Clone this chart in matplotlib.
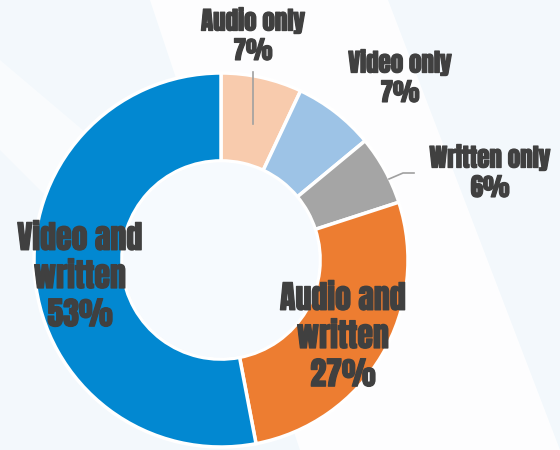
import matplotlib
matplotlib.use("Agg")
import matplotlib.pyplot as plt
import matplotlib.patheffects as pe

# donut slices, clockwise from 12 o'clock
labels = ["Audio only", "Video only", "Written only", "Audio and\nwritten", "Video and\nwritten"]
shares = [7, 7, 6, 27, 53]
colors = ["#F8CBAD", "#9DC3E6", "#A5A5A5", "#ED7D31", "#0288D1"]

W, H = 560, 450
bg = "#F3F8FC"
txt_color = "#404040"
font = ["Anton", "DejaVu Sans"]

fig = plt.figure(figsize=(W / 100, H / 100), dpi=100)
fig.patch.set_facecolor(bg)
ax = fig.add_axes([0, 0, 1, 1])
ax.set_facecolor(bg)


def px(x, y):
    # pixel coords (y down) -> data coords
    return x, H - y


# soft diagonal white bands in the background
band1 = [px(150, 0), px(388, 0), px(560, 450), px(300, 450)]
band2 = [px(0, 60), px(0, 150), px(90, 240), px(130, 170)]
for band, a in ((band1, 0.85), (band2, 0.5)):
    xs, ys = zip(*band)
    ax.fill(xs, ys, color="white", alpha=a, zorder=0, lw=0)

cx, cy = px(221, 260)
r = 187
ax.pie(shares, colors=colors, startangle=90, counterclock=False,
       center=(cx, cy), radius=r,
       wedgeprops=dict(width=r * 0.47, edgecolor="white", linewidth=2.5))
ax.add_patch(plt.Circle((cx, cy), r * 0.53 - 1.5, color="#F6FAFE", zorder=3, lw=0))

ax.set_xlim(0, W)
ax.set_ylim(0, H)
ax.set_aspect("equal")
ax.axis("off")

bold = [pe.withStroke(linewidth=0.9, foreground=txt_color)]
small = dict(fontsize=18, color=txt_color, ha="center", va="center",
             family=font, linespacing=1.2, zorder=5, path_effects=bold)
big = dict(small, fontsize=23, linespacing=1.22)

ax.text(*px(253, 35), f"{labels[0]}\n{shares[0]}%", **small)
ax.text(*px(400, 77), f"{labels[1]}\n{shares[1]}%", **small)
ax.text(*px(490, 172), f"{labels[2]}\n{shares[2]}%", **small)
ax.text(*px(343, 336), f"{labels[3]}\n{shares[3]}%", **big)
ax.text(*px(80, 276), f"{labels[4]}\n{shares[4]}%", **big)

# leader lines
ax.plot(*zip(px(253, 72), px(253, 124)), color="#A0A0A0", lw=1.2, zorder=4)
ax.plot(*zip(px(389, 179), px(403, 173), px(414, 173)), color="#A0A0A0", lw=1.2, zorder=4)

fig.savefig("out.png", dpi=100, facecolor=fig.get_facecolor())
